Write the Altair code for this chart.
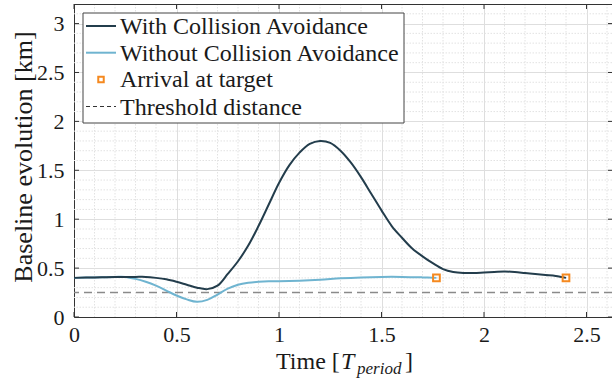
import altair as alt
import pandas as pd

# ---------------- data ----------------
t_with = [0, 0.1, 0.2, 0.25, 0.3, 0.35, 0.4, 0.45, 0.5, 0.55, 0.6, 0.65, 0.7, 0.75,
          0.8, 0.85, 0.9, 0.95, 1.0, 1.05, 1.1, 1.15, 1.2, 1.25, 1.3, 1.35, 1.4, 1.45,
          1.5, 1.55, 1.6, 1.65, 1.7, 1.75, 1.8, 1.85, 1.9, 1.95, 2.0, 2.05, 2.1, 2.15,
          2.2, 2.25, 2.3, 2.35, 2.4]
v_with = [0.40, 0.405, 0.41, 0.41, 0.41, 0.41, 0.40, 0.385, 0.36, 0.33, 0.30, 0.285,
          0.32, 0.44, 0.57, 0.73, 0.93, 1.15, 1.37, 1.55, 1.68, 1.77, 1.80, 1.78, 1.70,
          1.58, 1.43, 1.26, 1.09, 0.93, 0.81, 0.70, 0.62, 0.55, 0.49, 0.46, 0.45, 0.45,
          0.455, 0.46, 0.465, 0.46, 0.45, 0.44, 0.43, 0.42, 0.40]

t_without = [0, 0.1, 0.2, 0.25, 0.3, 0.35, 0.4, 0.45, 0.5, 0.55, 0.6, 0.65, 0.7, 0.75,
             0.8, 0.85, 0.9, 0.95, 1.0, 1.1, 1.2, 1.3, 1.4, 1.5, 1.6, 1.7, 1.768]
v_without = [0.40, 0.405, 0.41, 0.41, 0.39, 0.36, 0.32, 0.27, 0.22, 0.18, 0.155, 0.175,
             0.23, 0.29, 0.33, 0.35, 0.36, 0.365, 0.365, 0.37, 0.38, 0.395, 0.405, 0.41,
             0.41, 0.405, 0.40]

arrival_t = [1.768, 2.4]
arrival_v = [0.40, 0.40]

threshold = [0.25]

x_major = [0, 0.5, 1, 1.5, 2, 2.5]
y_major = [0, 0.5, 1, 1.5, 2, 2.5, 3]
x_minor = [round(i * 0.1, 1) for i in range(1, 27) if i % 5 != 0]
y_minor = [round(i * 0.1, 1) for i in range(1, 32) if i % 5 != 0]

legend_labels = ["With Collision Avoidance", "Without Collision Avoidance",
                 "Arrival at target", "Threshold distance"]

# ---------------- layout ----------------
W, H = 538, 313
X_DOMAIN = [0, W / 205.0]
Y_DOMAIN = [0, 3.2]
FONT = "Liberation Serif"
DARK = "#233d4c"
LIGHT = "#6fb4d0"
ORANGE = "#f5891f"
AXC = "#333333"
TXT = "#1a1a1a"

xs = alt.Scale(domain=X_DOMAIN, nice=False, zero=False)
ys = alt.Scale(domain=Y_DOMAIN, nice=False)

one = pd.DataFrame({"a": [0]})

df_with = pd.DataFrame({"t": t_with, "v": v_with})
df_without = pd.DataFrame({"t": t_without, "v": v_without})
df_arr = pd.DataFrame({"t": arrival_t, "v": arrival_v})
df_thr = pd.DataFrame({"v": threshold})

xaxis = alt.Axis(values=x_major, format="~g", grid=True, gridColor="#dedede",
                 ticks=False, domainColor=AXC, labelFont=FONT, labelFontSize=22,
                 labelColor=TXT, labelPadding=7, title=None, labelFlush=False)
yaxis = alt.Axis(values=y_major, format="~g", grid=True, gridColor="#dedede",
                 ticks=False, domainColor=AXC, labelFont=FONT, labelFontSize=22,
                 labelColor=TXT, labelPadding=10, title=None)

minor_x = alt.Chart(pd.DataFrame({"t": x_minor})).mark_rule(
    color="#e2e2e2", strokeDash=[1.5, 1.5], strokeWidth=1
).encode(x=alt.X("t:Q", scale=xs, axis=xaxis))

minor_y = alt.Chart(pd.DataFrame({"v": y_minor})).mark_rule(
    color="#e2e2e2", strokeDash=[1.5, 1.5], strokeWidth=1
).encode(y=alt.Y("v:Q", scale=ys, axis=yaxis))

thr = alt.Chart(df_thr).mark_rule(color="#8a8a8a", strokeDash=[8, 5], strokeWidth=1.5).encode(
    y=alt.Y("v:Q", scale=ys))

line_without = alt.Chart(df_without).mark_line(
    color=LIGHT, strokeWidth=2, interpolate="catmull-rom").encode(
    x=alt.X("t:Q", scale=xs), y=alt.Y("v:Q", scale=ys))

line_with = alt.Chart(df_with).mark_line(
    color=DARK, strokeWidth=2, interpolate="catmull-rom").encode(
    x=alt.X("t:Q", scale=xs), y=alt.Y("v:Q", scale=ys))

markers = alt.Chart(df_arr).mark_point(
    shape="square", filled=False, color=ORANGE, size=45, strokeWidth=2, opacity=1).encode(
    x=alt.X("t:Q", scale=xs), y=alt.Y("v:Q", scale=ys))

# inward ticks
tick_b = alt.Chart(pd.DataFrame({"t": x_major})).mark_rule(color=AXC).encode(
    x=alt.X("t:Q", scale=xs), y=alt.value(H), y2=alt.value(H - 5))
tick_t = alt.Chart(pd.DataFrame({"t": x_major})).mark_rule(color=AXC).encode(
    x=alt.X("t:Q", scale=xs), y=alt.value(0), y2=alt.value(5))
tick_l = alt.Chart(pd.DataFrame({"v": y_major})).mark_rule(color=AXC).encode(
    y=alt.Y("v:Q", scale=ys), x=alt.value(0), x2=alt.value(5))
tick_r = alt.Chart(pd.DataFrame({"v": y_major})).mark_rule(color=AXC).encode(
    y=alt.Y("v:Q", scale=ys), x=alt.value(W - 4), x2=alt.value(W))
top_border = alt.Chart(one).mark_rule(color=AXC, strokeWidth=1).encode(
    x=alt.value(0), x2=alt.value(W), y=alt.value(0.5))

# legend
lx0, lx1, ly0, ly1 = 9, 330, 9, 119
rows = [22, 48.7, 75.4, 102.5]
leg_box = alt.Chart(one).mark_rect(fill="white", stroke="#444444", strokeWidth=1).encode(
    x=alt.value(lx0), x2=alt.value(lx1), y=alt.value(ly0), y2=alt.value(ly1))
leg_l1 = alt.Chart(one).mark_rule(color=DARK, strokeWidth=2).encode(
    x=alt.value(12), x2=alt.value(42), y=alt.value(rows[0]))
leg_l2 = alt.Chart(one).mark_rule(color=LIGHT, strokeWidth=2).encode(
    x=alt.value(12), x2=alt.value(42), y=alt.value(rows[1]))
leg_m = alt.Chart(one).mark_point(shape="square", filled=False, color=ORANGE, size=30,
                                  strokeWidth=2, opacity=1).encode(
    x=alt.value(27), y=alt.value(rows[2]))
leg_l4 = alt.Chart(one).mark_rule(color="#333333", strokeWidth=1.2, strokeDash=[4, 3]).encode(
    x=alt.value(12), x2=alt.value(42), y=alt.value(rows[3]))
leg_text = alt.Chart(pd.DataFrame({"label": legend_labels, "row": rows})).mark_text(
    font=FONT, fontSize=24, align="left", baseline="middle", color=TXT, dy=1).encode(
    x=alt.value(46), y=alt.Y("row:Q", scale=None), text="label:N")

# axis titles
ytitle = alt.Chart(one).mark_text(font=FONT, fontSize=26, angle=270, align="center",
                                  baseline="alphabetic", color=TXT).encode(
    x=alt.value(-42), y=alt.value(153), text=alt.value("Baseline evolution [km]"))
xt1 = alt.Chart(one).mark_text(font=FONT, fontSize=24, align="left", baseline="alphabetic",
                               color=TXT).encode(
    x=alt.value(276 - 74), y=alt.value(365), text=alt.value("Time ["))
xt2 = alt.Chart(one).mark_text(font=FONT, fontSize=24, fontStyle="italic", align="left",
                               baseline="alphabetic", color=TXT).encode(
    x=alt.value(341 - 74), y=alt.value(365), text=alt.value("T"))
xt3 = alt.Chart(one).mark_text(font=FONT, fontSize=17, fontStyle="italic", align="left",
                               baseline="alphabetic", color=TXT).encode(
    x=alt.value(357 - 74), y=alt.value(370), text=alt.value("period"))
xt4 = alt.Chart(one).mark_text(font=FONT, fontSize=24, align="left", baseline="alphabetic",
                               color=TXT).encode(
    x=alt.value(405 - 74), y=alt.value(365), text=alt.value("]"))

chart = alt.layer(
    minor_x, minor_y, thr, line_without, line_with, markers,
    tick_b, tick_t, tick_l, tick_r, top_border,
    leg_box, leg_l1, leg_l2, leg_m, leg_l4, leg_text,
    ytitle, xt1, xt2, xt3, xt4
).properties(
    width=W, height=H,
    autosize=alt.AutoSizeParams(type="none"),
    padding={"left": 74, "top": 4, "right": 0, "bottom": 65},
    background="white"
).configure_view(stroke=None)

chart.save("out.html", embed_options={"renderer": "svg", "actions": False})
